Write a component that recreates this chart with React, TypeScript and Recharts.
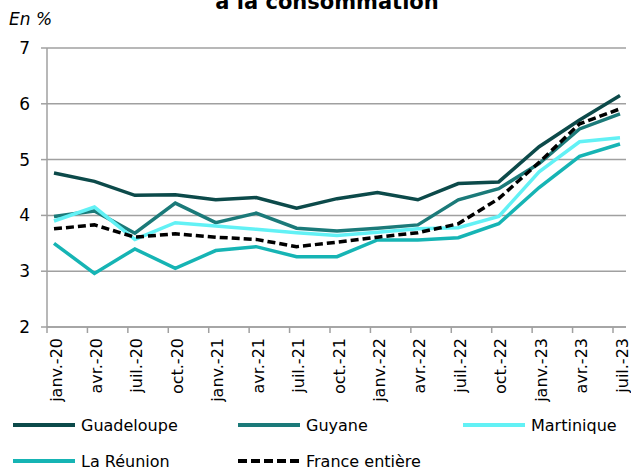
import { LineChart, Line, XAxis, YAxis, CartesianGrid } from "recharts";

const months = [
  "janv.-20", "avr.-20", "juil.-20", "oct.-20",
  "janv.-21", "avr.-21", "juil.-21", "oct.-21",
  "janv.-22", "avr.-22", "juil.-22", "oct.-22",
  "janv.-23", "avr.-23", "juil.-23",
];

const guadeloupe = [4.76, 4.61, 4.36, 4.37, 4.28, 4.32, 4.13, 4.3, 4.41, 4.28, 4.57, 4.6, 5.23, 5.71, 6.15];
const guyane = [3.98, 4.08, 3.68, 4.22, 3.87, 4.04, 3.77, 3.72, 3.77, 3.83, 4.28, 4.48, 4.93, 5.55, 5.82];
const martinique = [3.9, 4.15, 3.57, 3.87, 3.81, 3.75, 3.69, 3.64, 3.7, 3.76, 3.78, 3.98, 4.78, 5.32, 5.39];
const reunion = [3.5, 2.96, 3.4, 3.05, 3.37, 3.44, 3.26, 3.26, 3.56, 3.56, 3.6, 3.85, 4.5, 5.06, 5.28];
const france = [3.76, 3.83, 3.61, 3.67, 3.61, 3.57, 3.44, 3.52, 3.61, 3.69, 3.85, 4.3, 4.95, 5.64, 5.91];

const yTicks = [2, 3, 4, 5, 6, 7];

const series = [
  { key: "guadeloupe", name: "Guadeloupe", color: "#0c4a4a", dash: undefined },
  { key: "guyane", name: "Guyane", color: "#1b7a79", dash: undefined },
  { key: "martinique", name: "Martinique", color: "#62f1f5", dash: undefined },
  { key: "reunion", name: "La Réunion", color: "#16b4b4", dash: undefined },
  { key: "france", name: "France entière", color: "#000000", dash: "8 4" },
];

const data = months.map((m, i) => ({
  month: m,
  guadeloupe: guadeloupe[i],
  guyane: guyane[i],
  martinique: martinique[i],
  reunion: reunion[i],
  france: france[i],
}));

const font = "'DejaVu Sans', Verdana, sans-serif";
const axisGray = "#a0a0a0";

// tick marks sit a few px left of each point, label centred on the point
function MonthTick({ x, y, payload }: any) {
  return (
    <g>
      <line x1={x - 7} y1={y} x2={x - 7} y2={y + 6} stroke={axisGray} strokeWidth={1.5} />
      <text
        transform={`translate(${x + 2}, ${y + 11}) rotate(-90)`}
        textAnchor="end"
        dy="0.35em"
        fontSize={16}
        fontFamily={font}
        fill="#000"
      >
        {payload.value}
      </text>
    </g>
  );
}

function LegendRow({ items }: { items: typeof series }) {
  return (
    <div style={{ display: "flex", height: 36, alignItems: "center" }}>
      {items.map((s) => (
        <div key={s.key} style={{ width: 225, display: "flex", alignItems: "center" }}>
          <svg width={69} height={10}>
            <line
              x1={1}
              y1={5}
              x2={63}
              y2={5}
              stroke={s.color}
              strokeWidth={4}
              strokeDasharray={s.dash ? "9 4" : undefined}
            />
          </svg>
          <span style={{ fontSize: 16, fontFamily: font }}>{s.name}</span>
        </div>
      ))}
    </div>
  );
}

export default function App() {
  return (
    <div style={{ position: "absolute", left: 0, top: 0, width: 631, height: 470, background: "#fff", overflow: "hidden" }}>
      <div
        style={{
          position: "absolute",
          left: 0,
          width: 654,
          top: -10,
          textAlign: "center",
          fontFamily: font,
          fontWeight: "bold",
          fontSize: 21,
          lineHeight: "24px",
        }}
      >
        à la consommation
      </div>
      <div
        style={{
          position: "absolute",
          left: 9,
          top: 9,
          fontFamily: font,
          fontStyle: "italic",
          fontSize: 17,
        }}
      >
        En %
      </div>
      <LineChart width={631} height={415} data={data} margin={{ top: 48, right: 5, bottom: 0, left: 0 }}>
        <CartesianGrid vertical={false} stroke={axisGray} strokeWidth={1.5} />
        <XAxis
          dataKey="month"
          interval={0}
          padding={{ left: 7, right: 6 }}
          height={88}
          tickSize={0}
          tickMargin={0}
          tickLine={false}
          tick={<MonthTick />}
          stroke={axisGray}
          strokeWidth={1.5}
        />
        <YAxis
          width={47}
          domain={[2, 7]}
          ticks={yTicks}
          tickSize={6}
          tickMargin={11}
          stroke={axisGray}
          strokeWidth={1.5}
          tick={{ fill: "#000", fontSize: 17, fontFamily: font }}
        />
        {series.map((s) => (
          <Line
            key={s.key}
            dataKey={s.key}
            name={s.name}
            stroke={s.color}
            strokeWidth={3.5}
            strokeDasharray={s.dash}
            dot={false}
            isAnimationActive={false}
          />
        ))}
      </LineChart>
      <div style={{ position: "absolute", left: 12, top: 407 }}>
        <LegendRow items={series.slice(0, 3)} />
        <LegendRow items={series.slice(3)} />
      </div>
    </div>
  );
}
